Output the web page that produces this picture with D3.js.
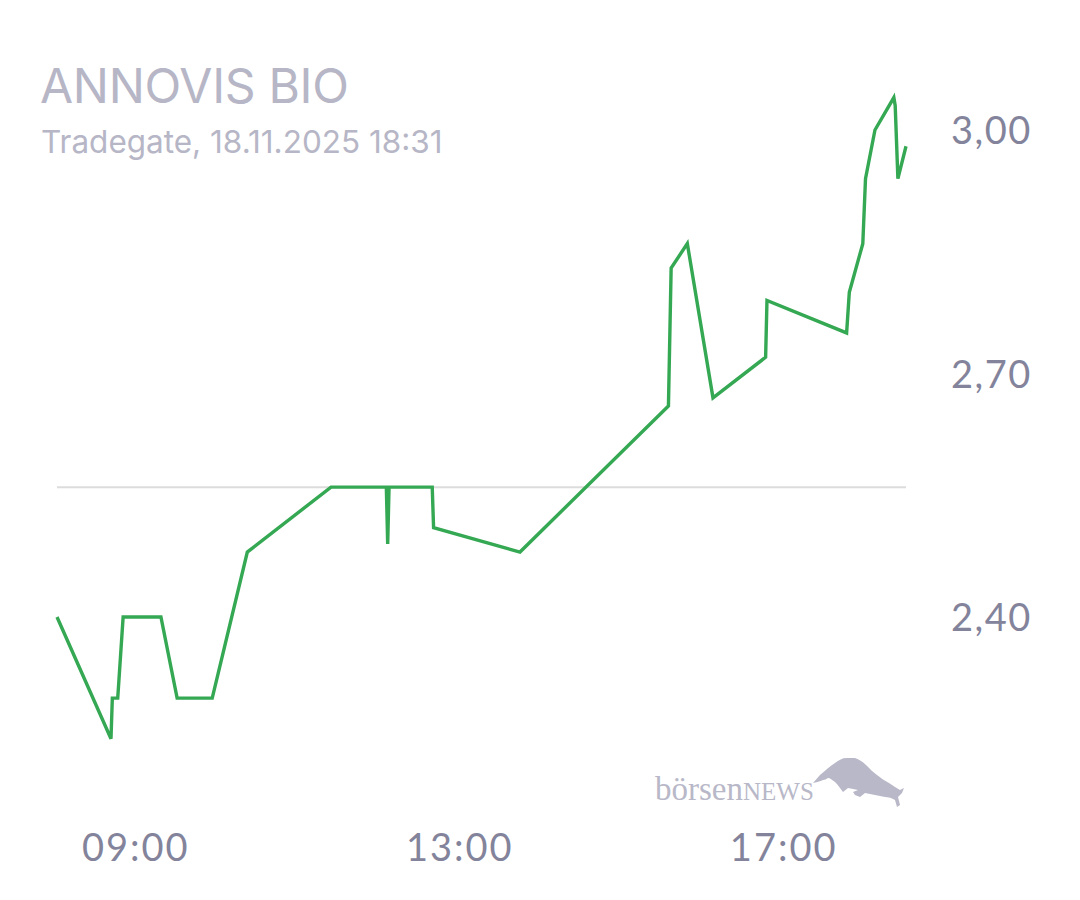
<!DOCTYPE html>
<html><head><meta charset="utf-8">
<script src="https://cdn.jsdelivr.net/npm/d3@7"></script>
<style>
html,body{margin:0;padding:0;background:#fff;}
svg{display:block;}
</style></head>
<body>
<svg id="chart" width="1080" height="900"></svg>
<script>
const title = "ANNOVIS BIO";
const subtitle = "Tradegate, 18.11.2025 18:31";
const times = ["08:02","08:42","08:43","08:47","08:51","09:19","09:31","09:57","10:23","11:25",
  "12:06","12:07","12:08","12:40","12:41","13:45","15:35","15:37","15:49","16:08",
  "16:47","16:48","17:47","17:49","17:59","18:01","18:08","18:22","18:23","18:25","18:31"];
const prices = [2.40,2.25,2.30,2.30,2.40,2.40,2.30,2.30,2.48,2.56,
  2.56,2.49,2.56,2.56,2.51,2.48,2.66,2.83,2.86,2.67,
  2.72,2.79,2.75,2.80,2.86,2.94,3.00,3.04,3.03,2.94,2.98];
const prevClose = 2.56;
const yTicks = [2.40, 2.70, 3.00];
const xTickLabels = ["09:00","13:00","17:00"];

const parse = d3.timeParse("%H:%M");
const data = times.map((t,i)=>({t:parse(t), v:prices[i]}));

const svg = d3.select("#chart");
const x = d3.scaleTime().domain(d3.extent(data,d=>d.t)).range([57,906]);
const y = d3.scaleLinear().domain([2.40,3.00]).range([617,130]);

// titles
svg.append("text").attr("x",40).attr("y",103)
  .attr("font-family","Inter").attr("font-size",48).attr("fill","#b6b6c6")
  .attr("letter-spacing",-0.3).text(title);
svg.append("text").attr("x",41).attr("y",153)
  .attr("font-family","Inter").attr("font-size",31.5).attr("fill","#b6b6c6")
  .text(subtitle);

// reference line
svg.append("line").attr("x1",x.range()[0]).attr("x2",x.range()[1])
  .attr("y1",y(prevClose)).attr("y2",y(prevClose))
  .attr("stroke","#dcdcdc").attr("stroke-width",2);

// y axis labels
const fmt = v => d3.format(".2f")(v).replace(".",",");
const yAxis = d3.axisRight(y).tickValues(yTicks).tickFormat(fmt).tickSize(0).tickPadding(0);
const gy = svg.append("g").attr("transform","translate(951,0)").call(yAxis);
gy.select(".domain").remove();
gy.selectAll("text").attr("font-family","Lato, 'Open Sans', sans-serif").attr("font-size",38)
  .attr("letter-spacing",1.5).attr("fill","#83849b").attr("dy","0.36em");

// x axis labels
const xVals = xTickLabels.map(parse);
const xAxis = d3.axisBottom(x).tickValues(xVals).tickFormat(d3.timeFormat("%H:%M")).tickSize(0).tickPadding(0);
const gx = svg.append("g").attr("transform","translate(0,834)").call(xAxis);
gx.select(".domain").remove();
gx.selectAll("text").attr("font-family","Lato, 'Open Sans', sans-serif").attr("font-size",38)
  .attr("letter-spacing",2).attr("fill","#83849b").attr("dy","0.72em");

// line
const line = d3.line().x(d=>x(d.t)).y(d=>y(d.v));
svg.append("path").datum(data).attr("d",line)
  .attr("fill","none").attr("stroke","#35a853").attr("stroke-width",3.4)
  .attr("stroke-linejoin","miter");

// logo
const logo = svg.append("g").attr("fill","#b8b8c8");
const lt = logo.append("text").attr("x",655).attr("y",800)
  .attr("font-family","'Liberation Serif', 'DejaVu Serif', serif").attr("font-size",33);
lt.append("tspan").text("börsen");
lt.append("tspan").attr("font-size",25).text("NEWS");
logo.append("path").attr("d",
  "M813,783 L820,775 C826,770 830,766 835,763 C839,760 842,758 847,758 L855,758 C860,760 863,762 866,765 C870,769 873,772 877,775 C881,778 885,781 889,783 L895,787 L900,790 L904,788 L902,793 L898,797 L900,805 L897,807 L895,800 C892,798 888,797 885,797 L875,795 L865,793 L860,797 L855,795 L853,792 L858,790 L848,788 L843,792 L840,788 C838,785 836,783 835,782 C832,780 830,778 828,778 C826,779 825,780 823,780 C821,781 818,782 813,783 Z");
</script>
</body></html>
